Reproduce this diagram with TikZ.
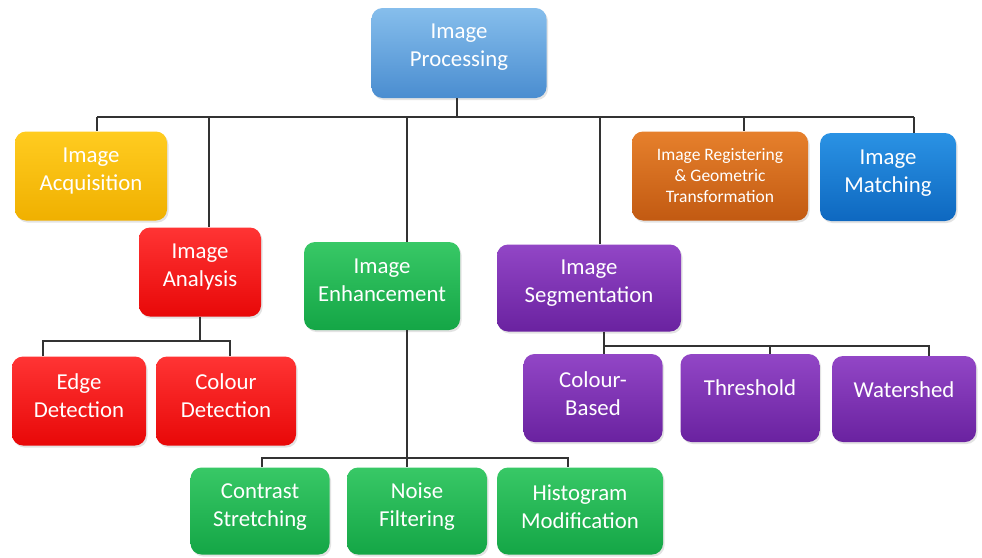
\documentclass[tikz,border=0pt]{standalone}
\usepackage{fontspec}
\setmainfont{Carlito}
\usetikzlibrary{shadows}
\definecolor{cProcT}{HTML}{86BEEC}
\definecolor{cProcB}{HTML}{4A8DD0}
\definecolor{cAcqT}{HTML}{FFCC20}
\definecolor{cAcqB}{HTML}{F0B000}
\definecolor{cRedT}{HTML}{FF3434}
\definecolor{cRedB}{HTML}{E80808}
\definecolor{cGrnT}{HTML}{38C866}
\definecolor{cGrnB}{HTML}{14A646}
\definecolor{cPurT}{HTML}{9246C6}
\definecolor{cPurB}{HTML}{6A22A0}
\definecolor{cOrgT}{HTML}{E6802C}
\definecolor{cOrgB}{HTML}{C25A12}
\definecolor{cBluT}{HTML}{2A92E4}
\definecolor{cBluB}{HTML}{0E68C0}
\definecolor{cLine}{HTML}{333333}
\tikzset{
  box/.style={rounded corners=11pt, inner sep=0pt,
    drop shadow={opacity=0.22, shadow xshift=1.5pt, shadow yshift=-2pt}},
  lbl/.style={text=white, align=center, inner sep=0pt,
    font=\fontsize{22.8}{28}\selectfont},
  slbl/.style={text=white, align=center, inner sep=0pt,
    font=\fontsize{17.5}{21}\selectfont},
  proc/.style={box, top color=cProcT, bottom color=cProcB},
  acq/.style={box, top color=cAcqT, bottom color=cAcqB},
  red/.style={box, top color=cRedT, bottom color=cRedB},
  grn/.style={box, top color=cGrnT, bottom color=cGrnB},
  pur/.style={box, top color=cPurT, bottom color=cPurB},
  org/.style={box, top color=cOrgT, bottom color=cOrgB},
  blu/.style={box, top color=cBluT, bottom color=cBluB},
  conn/.style={draw=cLine, line width=1.2pt}
}
\begin{document}
\begin{tikzpicture}[x=1pt,y=-1pt]
\useasboundingbox[fill=white] (0,0) rectangle (982,557);
% nodes
\node[proc, minimum width=175pt, minimum height=90pt,
  label={[lbl, yshift=6pt]center:{Image\\Processing}}] (proc) at (459,53) {};
\node[acq, minimum width=152pt, minimum height=89pt,
  label={[lbl, yshift=5pt]center:{Image\\Acquisition}}] (acq) at (91,176) {};
\node[red, minimum width=122pt, minimum height=89pt,
  label={[lbl, yshift=5pt]center:{Image\\Analysis}}] (ana) at (200,272) {};
\node[grn, minimum width=156pt, minimum height=88pt,
  label={[lbl, yshift=6pt]center:{Image\\Enhancement}}] (enh) at (382,286) {};
\node[pur, minimum width=184pt, minimum height=87pt,
  label={[lbl, yshift=5pt]center:{Image\\Segmentation}}] (seg) at (589,288) {};
\node[org, minimum width=176pt, minimum height=89pt,
  label={[slbl]center:{Image Registering\\\& Geometric\\Transformation}}] (reg) at (720,176) {};
\node[blu, minimum width=136pt, minimum height=88pt,
  label={[lbl, yshift=4pt]center:{Image\\Matching}}] (mat) at (888,177) {};
\node[red, minimum width=134pt, minimum height=89pt,
  label={[lbl, yshift=5pt]center:{Edge\\Detection}}] (edge) at (79,401) {};
\node[red, minimum width=140pt, minimum height=89pt,
  label={[lbl, yshift=5pt]center:{Colour\\Detection}}] (cdet) at (226,401) {};
\node[grn, minimum width=139pt, minimum height=87pt,
  label={[lbl, yshift=4pt]center:{Contrast\\Stretching}}] (con) at (260,511) {};
\node[grn, minimum width=140pt, minimum height=87pt,
  label={[lbl, yshift=4pt]center:{Noise\\Filtering}}] (noi) at (417,511) {};
\node[grn, minimum width=166pt, minimum height=87pt,
  label={[lbl, yshift=4pt]center:{Histogram\\Modification}}] (his) at (580,511) {};
\node[pur, minimum width=139pt, minimum height=88pt,
  label={[lbl, yshift=4pt]center:{Colour-\\Based}}] (colb) at (593,398) {};
\node[pur, minimum width=139pt, minimum height=88pt,
  label={[lbl, yshift=10pt]center:{Threshold}}] (thr) at (750,398) {};
\node[pur, minimum width=144pt, minimum height=86pt,
  label={[lbl, yshift=9pt]center:{Watershed}}] (wat) at (904,399) {};
% junction coordinates
\coordinate (jP) at (457,117);
\coordinate (jAcq) at (97,117);
\coordinate (jAna) at (209,117);
\coordinate (jEnh) at (407,117);
\coordinate (jSeg) at (600,117);
\coordinate (jReg) at (744,117);
\coordinate (jMat) at (914,117);
\coordinate (aBus) at (200,341);
\coordinate (aL) at (43,341);
\coordinate (aR) at (230,341);
\coordinate (eBus) at (407,458);
\coordinate (eL) at (262,458);
\coordinate (eR) at (568,458);
\coordinate (sBus) at (604,346);
\coordinate (sM) at (770,346);
\coordinate (sR) at (929,346);
% connectors
\draw[conn] (jP |- proc.south) -- (jP);
\draw[conn] (jAcq) -- (jMat);
\draw[conn] (jAcq) -- (jAcq |- acq.north);
\draw[conn] (jAna) -- (jAna |- ana.north);
\draw[conn] (jEnh) -- (jEnh |- enh.north);
\draw[conn] (jSeg) -- (jSeg |- seg.north);
\draw[conn] (jReg) -- (jReg |- reg.north);
\draw[conn] (jMat) -- (jMat |- mat.north);
% analysis
\draw[conn] (aBus |- ana.south) -- (aBus);
\draw[conn] (aL |- edge.north) -- (aL) -- (aR) -- (aR |- cdet.north);
% enhancement
\draw[conn] (eBus |- enh.south) -- (eBus);
\draw[conn] (eL |- con.north) -- (eL) -- (eR) -- (eR |- his.north);
\draw[conn] (eBus) -- (eBus |- noi.north);
% segmentation
\draw[conn] (sBus |- seg.south) -- (sBus |- colb.north);
\draw[conn] (sBus) -- (sR) -- (sR |- wat.north);
\draw[conn] (sM) -- (sM |- thr.north);
\end{tikzpicture}
\end{document}
